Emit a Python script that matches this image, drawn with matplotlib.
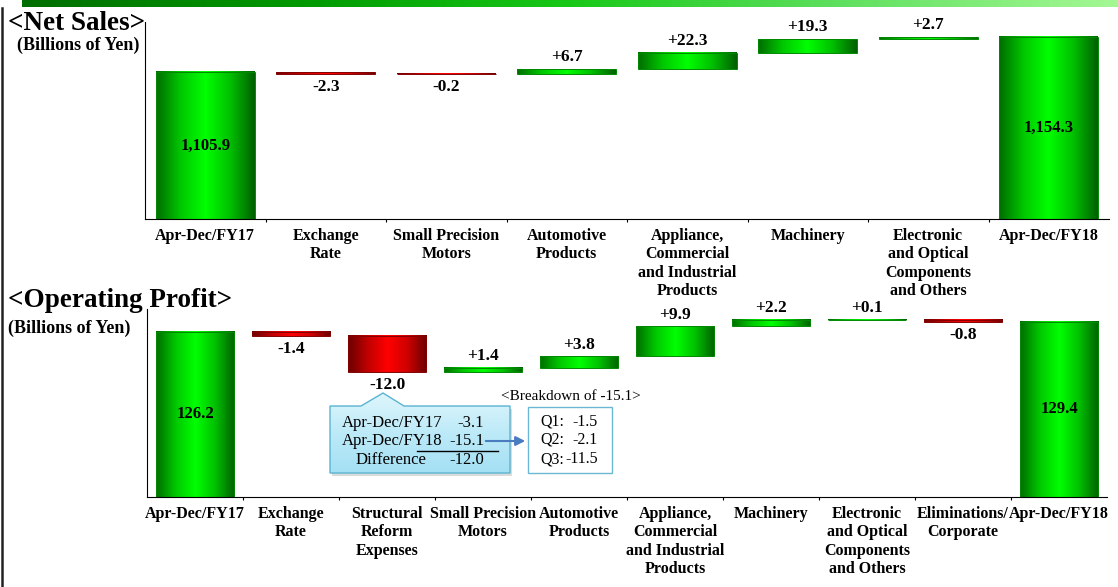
import numpy as np
import matplotlib.pyplot as plt
from matplotlib.colors import LinearSegmentedColormap
from matplotlib.patches import Rectangle, Polygon
from matplotlib.path import Path

plt.rcParams['font.family'] = ['Liberation Serif', 'DejaVu Serif']

# net sales bridge (billions of yen)
sales_cats = ["Apr-Dec/FY17", "Exchange\nRate", "Small Precision\nMotors",
              "Automotive\nProducts", "Appliance,\nCommercial\nand Industrial\nProducts",
              "Machinery", "Electronic\nand Optical\nComponents\nand Others", "Apr-Dec/FY18"]
sales_vals = [1105.9, -2.3, -0.2, 6.7, 22.3, 19.3, 2.7, 1154.3]

# operating profit bridge (billions of yen)
profit_cats = ["Apr-Dec/FY17", "Exchange\nRate", "Structural\nReform\nExpenses",
               "Small Precision\nMotors", "Automotive\nProducts",
               "Appliance,\nCommercial\nand Industrial\nProducts", "Machinery",
               "Electronic\nand Optical\nComponents\nand Others",
               "Eliminations/\nCorporate", "Apr-Dec/FY18"]
profit_vals = [126.2, -1.4, -12.0, 1.4, 3.8, 9.9, 2.2, 0.1, -0.8, 129.4]

# structural reform expenses detail
reform_names = ["Apr-Dec/FY17", "Apr-Dec/FY18", "Difference"]
reform_vals = [-3.1, -15.1, -12.0]
quarter_names = ["Q1:", "Q2:", "Q3:"]
quarter_vals = [-1.5, -2.1, -11.5]

green = LinearSegmentedColormap.from_list('g', ['#006c00', '#00c800', '#00ff00', '#00c000', '#006000'])
red = LinearSegmentedColormap.from_list('r', ['#6a0000', '#c00000', '#ff0000', '#d00000', '#6a0000'])
grad = np.linspace(0, 1, 256).reshape(1, -1)


def waterfall(ax, vals, cats, ylim, width=0.82):
    n = len(vals)
    run = 0
    for i, v in enumerate(vals):
        total = i == 0 or i == n - 1
        if total:
            lo, hi = ylim[0], v
            run = v
        else:
            lo, hi = sorted([run, run + v])
            run += v
        cmap = green if v >= 0 else red
        x0 = i - width / 2
        ax.imshow(grad, extent=[x0, x0 + width, lo, hi], aspect='auto', cmap=cmap,
                  interpolation='bilinear', zorder=2)
        ax.add_patch(Rectangle((x0, lo), width, hi - lo, fill=False,
                               ec=cmap(0.08), lw=0.7, zorder=3))
        if total:
            ax.text(i, (lo + hi) / 2, f"{v:,.1f}", ha='center', va='center',
                    fontsize=12, fontweight='bold', zorder=4)
        elif v >= 0:
            ax.annotate(f"{v:+.1f}", (i, hi), xytext=(0, 2.5), textcoords='offset points',
                        ha='center', va='bottom', fontsize=12.5, fontweight='bold')
        else:
            ax.annotate(f"{v:.1f}", (i, lo), xytext=(0, -4), textcoords='offset points',
                        ha='center', va='top', fontsize=12.5, fontweight='bold')

    ax.set_xlim(-0.5, n - 0.5)
    ax.set_ylim(*ylim)
    ax.set_aspect('auto')
    ax.set_facecolor('none')
    ax.set_yticks([])
    ax.set_xticks(range(n))
    ax.set_xticklabels(cats, fontsize=11.5, fontweight='bold', linespacing=1.2)
    ax.set_xticks(np.arange(0.5, n - 0.5), minor=True)
    ax.tick_params(axis='x', which='major', length=0, pad=6.5)
    ax.tick_params(axis='x', which='minor', length=2.5, width=0.8, direction='out')
    for s in ['top', 'right']:
        ax.spines[s].set_visible(False)
    for s in ['left', 'bottom']:
        ax.spines[s].set_linewidth(0.8)


fig = plt.figure(figsize=(11.18, 5.87), dpi=100)
W, H = 1118, 587

ax1 = fig.add_axes([145 / W, 1 - 219 / H, 964 / W, 197 / H])
waterfall(ax1, sales_vals, sales_cats, (902.6, 1175.0))

ax2 = fig.add_axes([147 / W, 1 - 497 / H, 960 / W, 188 / H])
waterfall(ax2, profit_vals, profit_cats, (71.1, 133.7))

# overlay in pixel coordinates for banner, titles and the callout
ov = fig.add_axes([0, 0, 1, 1], zorder=5)
ov.set_xlim(0, W)
ov.set_ylim(H, 0)
ov.axis('off')
ov.set_facecolor('none')

banner = LinearSegmentedColormap.from_list('b', ['#006e00', '#009800', '#18c818', '#60e060', '#a4f894'])
ov.imshow(grad, extent=[22, W, 7, 0], aspect='auto', cmap=banner, zorder=1)
ov.plot([1.5, 1.5], [8, H], color='#222222', lw=1.8)

bold = dict(fontweight='bold', color='black')
ov.text(8, 30, "<Net Sales>", fontsize=19.5, va='baseline', **bold)
ov.text(17, 50, "(Billions of Yen)", fontsize=13, va='baseline', **bold)
ov.text(8, 307, "<Operating Profit>", fontsize=19.5, va='baseline', **bold)
ov.text(8, 333, "(Billions of Yen)", fontsize=13, va='baseline', **bold)

# callout box with pointer
pts = [(330, 406), (361, 406), (383, 393), (404, 406), (510, 406), (510, 473), (330, 473)]
shadow = Polygon([(x + 2, y + 3) for x, y in pts], closed=True, fc='#999999', ec='none',
                 alpha=0.35, zorder=2)
ov.add_patch(shadow)
box = Polygon(pts, closed=True, fc='none', ec='#5ab4d2', lw=1.0, zorder=4)
ov.add_patch(box)
cyan = LinearSegmentedColormap.from_list('c', ['#def6fc', '#bdeaf8', '#a4e0f4'])
img = ov.imshow(np.linspace(0, 1, 64).reshape(-1, 1), extent=[330, 510, 473, 393],
                aspect='auto', cmap=cyan, zorder=3)
img.set_clip_path(Path(pts + [pts[0]], closed=True), ov.transData)

row_y = [423, 441, 460]
name_x = [342, 342, 356]
for nm, v, x, y in zip(reform_names, reform_vals, name_x, row_y):
    ov.text(x, y, nm, fontsize=12, va='center', ha='left', zorder=5)
    ov.text(484, y, f"{v:.1f}", fontsize=12, va='center', ha='right', zorder=5)
ov.plot([417, 498], [451, 451], color='black', lw=1.0, zorder=5)
ov.annotate("", xy=(528, 441), xytext=(483, 441), zorder=5,
            arrowprops=dict(arrowstyle='-|>', color='#4a7cc0', lw=1.5, mutation_scale=14))

# quarterly breakdown box
ov.add_patch(Rectangle((528, 407), 84, 66, fc='white', ec='#6cb8d4', lw=1.0, zorder=4))
ov.text(571, 396, "<Breakdown of -15.1>", fontsize=11, ha='center', va='center', zorder=5)
for nm, v, y in zip(quarter_names, quarter_vals, row_y):
    ov.text(540, y - 1, nm, fontsize=11.5, va='center', ha='left', zorder=5)
    ov.text(598, y - 1, f"{v:.1f}", fontsize=11.5, va='center', ha='right', zorder=5)

fig.savefig('out.png', dpi=100)
